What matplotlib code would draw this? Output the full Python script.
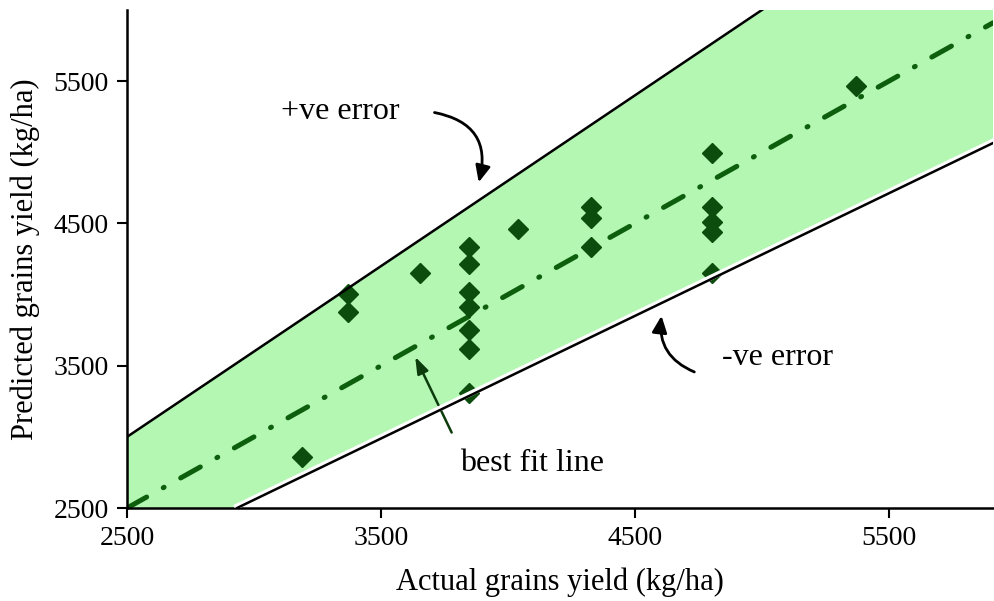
#!/usr/bin/env python

import matplotlib.pyplot as plt
import matplotlib.patheffects as pe
import numpy as np

plt.rcParams['font.family'] = ['Liberation Serif', 'DejaVu Serif']

actual = [3190, 3370, 3370, 3654, 3846, 3846, 3846, 3846, 3846, 3846, 3846,
          4039, 4327, 4327, 4327, 4803, 4803, 4803, 4803, 4803, 5372]
predicted = [2858, 4004, 3877, 4151, 4334, 4215, 4018, 3913, 3751, 3617, 3308,
             4461, 4615, 4538, 4334, 4995, 4615, 4510, 4440, 4151, 5466]

# error band limits and fit
upper_factor = 1.2
lower_x = [2933, 5910]
lower_y = [2500, 5065]
fit_slope, fit_icpt = 1.0, 0.0

xmin, xmax = 2500, 5910
ymin, ymax = 2500, 6000
ticks = [2500, 3500, 4500, 5500]

fig = plt.figure(figsize=(9.94, 6.01), dpi=100)
ax = fig.add_axes([0.1278, 0.1547, 0.8712, 0.8287])

xs = np.linspace(xmin, xmax, 400)
up = upper_factor * xs
lo = np.interp(xs, lower_x, lower_y, left=ymin)
lo = np.maximum(lo, ymin)
ax.fill_between(xs, lo, up, color='#b3f7b3', lw=0, zorder=1)

ax.plot(actual, predicted, 'D', color='#0c4c0c', ms=10, zorder=3)

fit, = ax.plot(xs, fit_slope * xs + fit_icpt, color='#0d5e0d', lw=3.6,
               solid_capstyle='round', dash_capstyle='round', zorder=2)
fit.set_dashes([4.5, 3.8, 0.2, 3.8])

ax.plot(xs, up, color='black', lw=1.8, zorder=4)
ax.plot(lower_x, lower_y, color='black', lw=1.8, zorder=4,
        path_effects=[pe.Stroke(linewidth=4, foreground='white', offset=(0, 1.2)),
                      pe.Normal()])

ax.set_xlim(xmin, xmax)
ax.set_ylim(ymin, ymax)
ax.set_xticks(ticks)
ax.set_yticks(ticks)
ax.tick_params(direction='out', length=7, width=1.5, labelsize=20, pad=6)
for s in ['top', 'right']:
    ax.spines[s].set_visible(False)
for s in ['left', 'bottom']:
    ax.spines[s].set_linewidth(1.8)

ax.set_xlabel('Actual grains yield (kg/ha)', fontsize=22, labelpad=12)
ax.set_ylabel('Predicted grains yield (kg/ha)', fontsize=22, labelpad=10)

arrow_kw = dict(arrowstyle='-|>,head_length=1.0,head_width=0.45', lw=2, color='black')
ax.text(3340, 5290, '+ve error', fontsize=23, ha='center', va='center', zorder=5)
ax.annotate('', xy=(3882, 4770), xytext=(3700, 5283),
            arrowprops=dict(connectionstyle='arc3,rad=-0.55', **arrow_kw))
ax.text(5060, 3560, '-ve error', fontsize=23, ha='center', va='center', zorder=5)
ax.annotate('', xy=(4606, 3870), xytext=(4744, 3449),
            arrowprops=dict(connectionstyle='arc3,rad=-0.4', **arrow_kw))
ax.text(4094, 2810, 'best fit line', fontsize=23, ha='center', va='center', zorder=5)
ax.annotate('', xy=(3630, 3580), xytext=(3783, 3013),
            arrowprops=dict(arrowstyle='-|>,head_length=1.0,head_width=0.35',
                            lw=1.8, color='#0c3c0c'))

fig.savefig('out.png', dpi=100)
